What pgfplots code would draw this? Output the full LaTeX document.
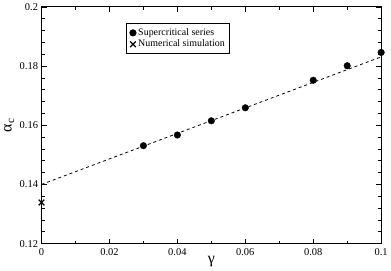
\documentclass[border=0pt]{standalone}
\usepackage{fontspec}
\setmainfont{Liberation Serif}
\usepackage{pgfplots}
\pgfplotsset{compat=1.18}
\begin{document}
\begin{tikzpicture}
\begin{axis}[
  scale only axis,
  width=340bp, height=237bp,
  xmin=0, xmax=0.1, ymin=0.12, ymax=0.2,
  xtick={0,0.02,0.04,0.06,0.08,0.1},
  ytick={0.12,0.14,0.16,0.18,0.2},
  xticklabels={0,0.02,0.04,0.06,0.08,0.1},
  yticklabels={0.12,0.14,0.16,0.18,0.2},
  minor x tick num=1, minor y tick num=4,
  tick align=inside,
  major tick length=5bp, minor tick length=3bp,
  tick style={black, line width=0.6pt},
  axis line style={line width=0.8pt},
  ticklabel style={font=\fontsize{10.5}{12}\selectfont},
  xticklabel style={yshift=-1bp},
  xlabel={γ}, ylabel={α\textsubscript{c}},
  label style={font=\fontsize{16}{18}\selectfont},
  xlabel style={yshift=6bp},
  ylabel style={yshift=-2bp, inner sep=4bp},
  legend style={at={(0.25,0.93)}, anchor=north west, draw=black, line width=0.5pt,
    font=\fontsize{10}{11}\selectfont, row sep=-1pt, inner sep=3pt},
  legend cell align=left,
]
\addplot[black, dashed, line width=0.8pt, forget plot] coordinates {(0,0.1400) (0.1,0.1831)};
\addplot[only marks, mark=*, mark size=3.3bp, black] coordinates {
(0.03,0.1531) (0.04,0.1567) (0.05,0.1615) (0.06,0.1659) (0.08,0.1752) (0.09,0.1801) (0.1,0.1846)};
\addlegendentry{Supercritical series}
\addplot[only marks, mark=x, mark size=4bp, black, line width=1.3pt] coordinates {(0,0.1339)};
\addlegendentry{Numerical simulation}
\end{axis}
\end{tikzpicture}
\end{document}
